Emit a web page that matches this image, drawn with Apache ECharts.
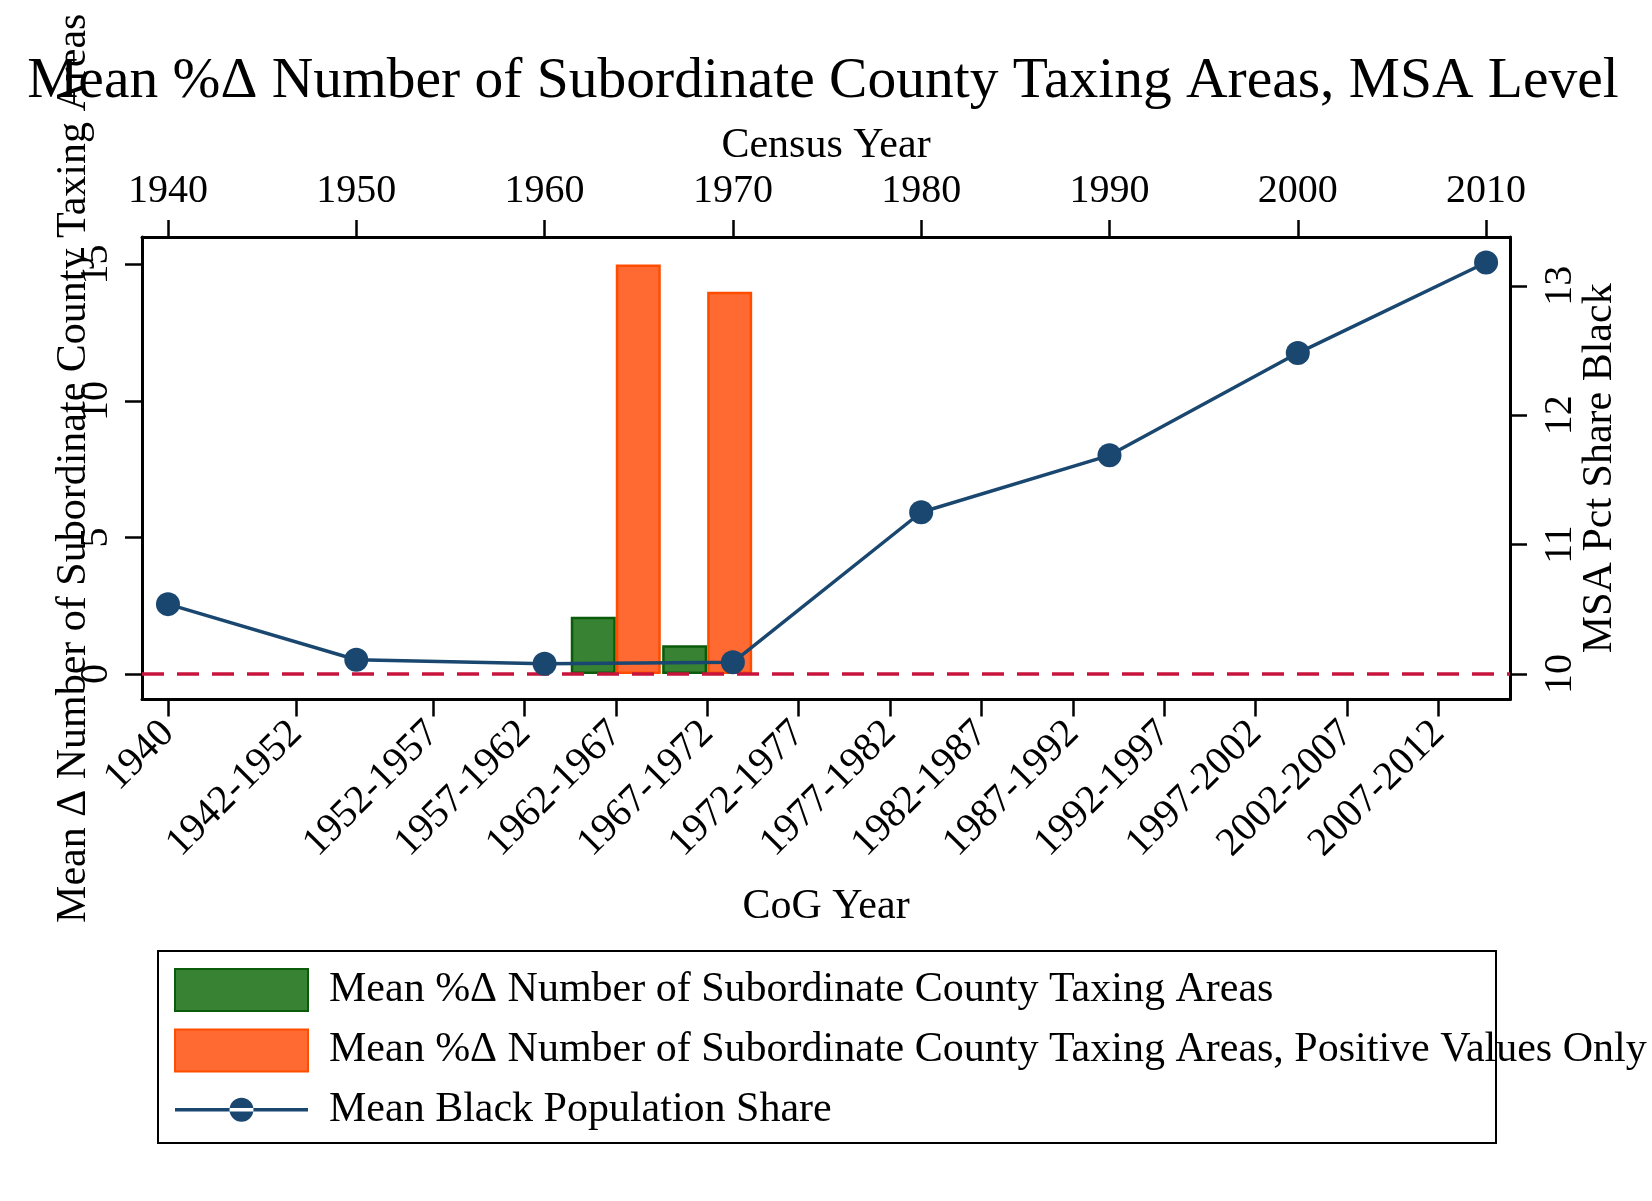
<!DOCTYPE html>
<html>
<head>
<meta charset="utf-8">
<script src="https://cdn.jsdelivr.net/npm/echarts@6/dist/echarts.min.js"></script>
<style>html,body{margin:0;padding:0;background:#fff;}#chart{width:1652px;height:1201px;}</style>
</head>
<body>
<div id="chart"></div>
<script>
// ---- data ----
const censusYears = [1940, 1950, 1960, 1970, 1980, 1990, 2000, 2010];
const blackShare = [10.54, 10.11, 10.08, 10.09, 11.25, 11.69, 12.48, 13.18];
const cogLabels = ['1940', '1942-1952', '1952-1957', '1957-1962', '1962-1967', '1967-1972', '1972-1977',
  '1977-1982', '1982-1987', '1987-1992', '1992-1997', '1997-2002', '2002-2007', '2007-2012'];
const pctChangeAll = [null, null, null, null, 2.1, 1.05, null, null, null, null, null, null, null, null];
const pctChangePos = [null, null, null, null, 15.0, 14.0, null, null, null, null, null, null, null, null];
const leftTicks = [0, 5, 10, 15];
const rightTicks = [10, 11, 12, 13];

const nameAll = 'Mean %Δ Number of Subordinate County Taxing Areas';
const namePos = 'Mean %Δ Number of Subordinate County Taxing Areas, Positive Values Only';
const nameLine = 'Mean Black Population Share';

// ---- derived ----
const cogMid = cogLabels.map(l => { const p = l.split('-').map(Number); return p.length > 1 ? (p[0] + p[1]) / 2 : p[0]; });
const barAll = cogMid.map((x, i) => [x, pctChangeAll[i]]).filter(d => d[1] !== null);
const barPos = cogMid.map((x, i) => [x, pctChangePos[i]]).filter(d => d[1] !== null);
const lineData = censusYears.map((y, i) => [y, blackShare[i]]);

const FONT = "'Liberation Serif', 'Times New Roman', Times, serif";
const NAVY = '#1a476f';
const tickStyle = { show: true, inside: false, length: 17, lineStyle: { color: '#000', width: 2.5 } };
const axLine = { show: true, onZero: false, lineStyle: { color: '#000', width: 3 } };

const chart = echarts.init(document.getElementById('chart'), null, { renderer: 'canvas' });
chart.setOption({
  animation: false,
  backgroundColor: '#fff',
  title: {
    text: 'Mean %Δ Number of Subordinate County Taxing Areas, MSA Level',
    left: 818, top: 48, textAlign: 'center',
    textStyle: { fontFamily: FONT, fontSize: 57.5, fontWeight: 'normal', color: '#000' }
  },
  grid: { left: 142, right: 142, top: 237, bottom: 501.5, containLabel: false, outerBoundsMode: 'none' },
  legend: {
    orient: 'vertical', left: 174, top: 968, padding: 0,
    itemWidth: 133, itemHeight: 42, itemGap: 16.4, selectedMode: false,
    textStyle: { fontFamily: FONT, fontSize: 42, color: '#000', padding: [16, 0, 0, 16] },
    data: [
      { name: nameAll, icon: 'rect' },
      { name: namePos, icon: 'rect' },
      { name: nameLine, icon: 'path://M0,0h0.01v0.01h-0.01z M0,19.25h133v3.5h-133z M54.5,21a12,12 0 1,0 24,0a12,12 0 1,0 -24,0z M132.99,41.99h0.01v0.01h-0.01z',
        itemStyle: { color: NAVY, borderWidth: 0 } }
    ]
  },
  xAxis: [
    {
      type: 'value', position: 'bottom', min: 1938.583, max: 2013.418,
      name: 'CoG Year', nameLocation: 'middle', nameGap: 186, nameMoveOverlap: false,
      nameTextStyle: { fontFamily: FONT, fontSize: 42, color: '#000' },
      axisLine: axLine, splitLine: { show: false },
      axisTick: Object.assign({ customValues: cogMid }, tickStyle),
      axisLabel: {
        customValues: cogMid, rotate: 45, margin: 28, fontFamily: FONT, fontSize: 40, color: '#000',
        formatter: v => { const i = cogMid.findIndex(m => Math.abs(m - v) < 1e-6); return i >= 0 ? cogLabels[i] : ''; }
      }
    },
    {
      type: 'value', position: 'top', min: 1938.62, max: 2011.27,
      name: 'Census Year', nameLocation: 'middle', nameGap: 70, nameMoveOverlap: false,
      nameTextStyle: { fontFamily: FONT, fontSize: 42, color: '#000' },
      axisLine: axLine, splitLine: { show: false },
      axisTick: Object.assign({ customValues: censusYears }, tickStyle),
      axisLabel: { customValues: censusYears, margin: 26, fontFamily: FONT, fontSize: 40, color: '#000', formatter: v => String(v) }
    }
  ],
  yAxis: [
    {
      type: 'value', position: 'left', min: -0.934, max: 16.007,
      name: 'Mean Δ Number of Subordinate County Taxing Areas', nameLocation: 'middle', nameGap: 47, nameRotate: 90, nameMoveOverlap: false,
      nameTextStyle: { fontFamily: FONT, fontSize: 42, color: '#000' },
      axisLine: axLine, splitLine: { show: false },
      axisTick: Object.assign({ customValues: leftTicks }, tickStyle),
      axisLabel: { customValues: leftTicks, rotate: 90, margin: 26, fontFamily: FONT, fontSize: 40, color: '#000', formatter: v => String(v) }
    },
    {
      type: 'value', position: 'right', min: 9.803, max: 13.377,
      name: 'MSA Pct Share Black', nameLocation: 'middle', nameGap: 69, nameRotate: 90, nameMoveOverlap: false,
      nameTextStyle: { fontFamily: FONT, fontSize: 42, color: '#000' },
      axisLine: axLine, splitLine: { show: false },
      axisTick: Object.assign({ customValues: rightTicks }, tickStyle),
      axisLabel: { customValues: rightTicks, rotate: 90, margin: 30, fontFamily: FONT, fontSize: 40, color: '#000', formatter: v => String(v) }
    }
  ],
  series: [
    {
      name: nameAll, type: 'bar', xAxisIndex: 0, yAxisIndex: 0,
      barWidth: 45, barGap: '0%', data: barAll,
      itemStyle: { color: '#388234', borderColor: '#0a5c0a', borderWidth: 2.5 },
      markLine: {
        silent: true, symbol: ['none', 'none'], label: { show: false },
        lineStyle: { color: '#c8143c', type: [22, 13], width: 3.5 },
        emphasis: { disabled: true },
        data: [{ yAxis: 0 }]
      },
      z: 2
    },
    {
      name: namePos, type: 'bar', xAxisIndex: 0, yAxisIndex: 0,
      barWidth: 45, barGap: '0%', data: barPos,
      itemStyle: { color: '#ff6a33', borderColor: '#ff4d00', borderWidth: 2.5 },
      z: 2
    },
    {
      name: nameLine, type: 'line', xAxisIndex: 1, yAxisIndex: 1,
      data: lineData, symbol: 'circle', symbolSize: 24, showSymbol: true,
      lineStyle: { color: NAVY, width: 3.5 },
      itemStyle: { color: NAVY, borderWidth: 0 },
      z: 5
    }
  ],
  graphic: [
    { type: 'rect', z: -1, shape: { x: 158, y: 951, width: 1338, height: 192 },
      style: { fill: 'none', stroke: '#000', lineWidth: 2 } }
  ]
});
</script>
</body>
</html>
